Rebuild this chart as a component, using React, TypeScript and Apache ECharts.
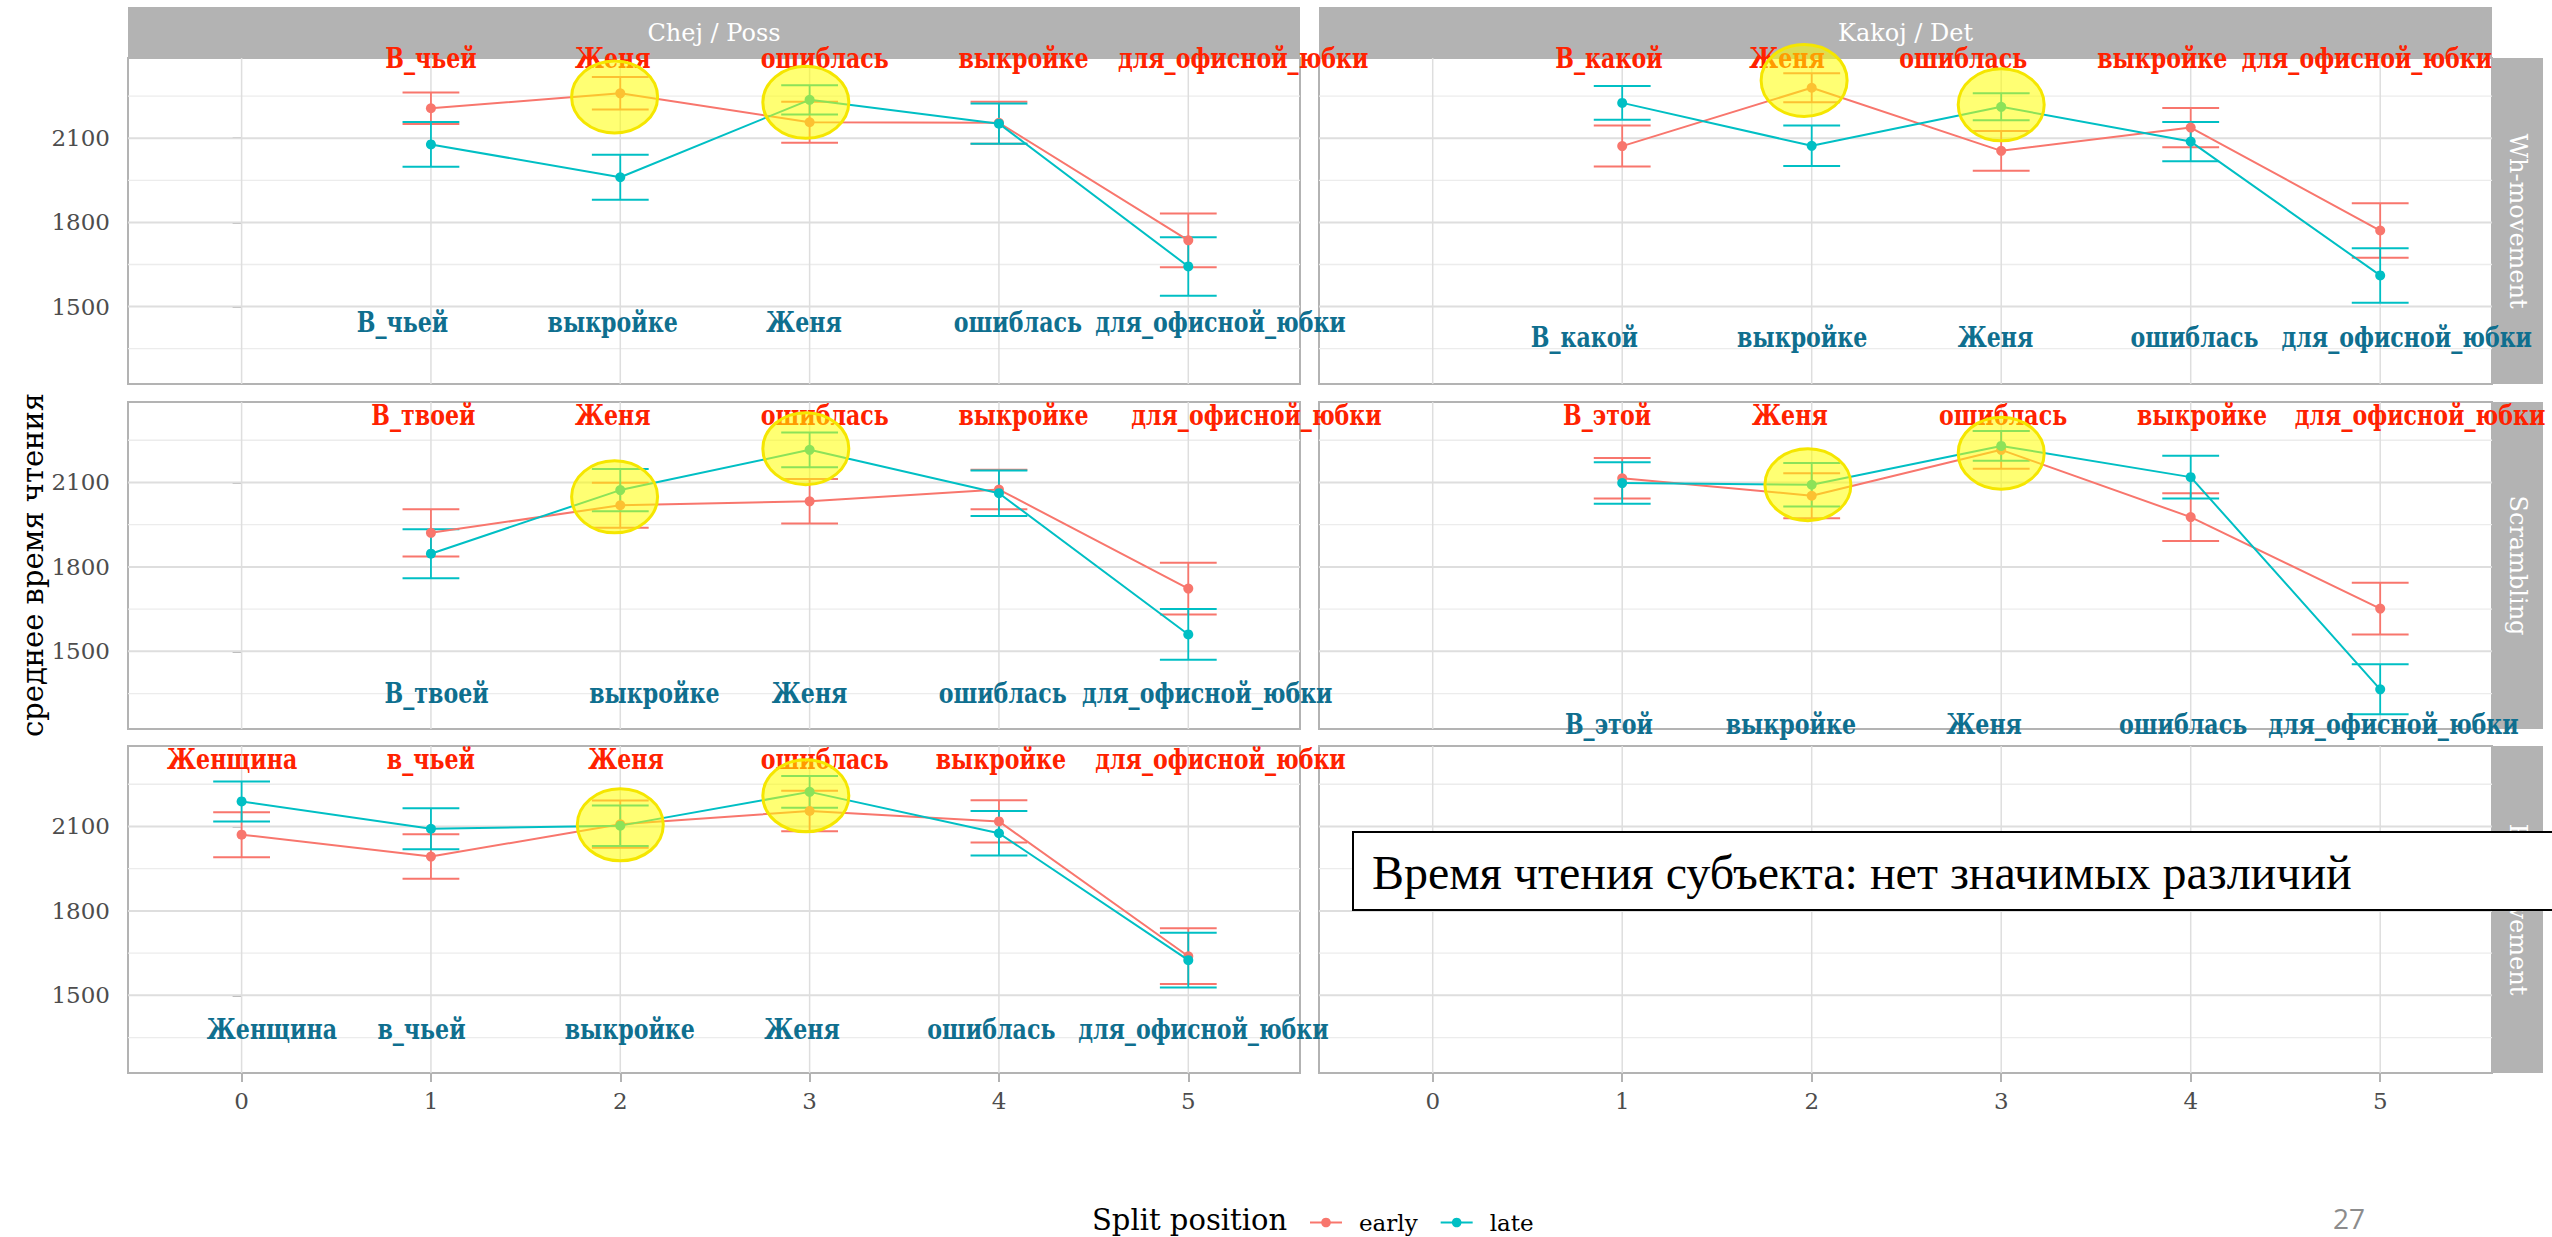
import React, { useEffect, useRef } from "react";
import * as echarts from "echarts";

// ---------------- data ----------------
const xTicks = [0, 1, 2, 3, 4, 5];
const yLabelTicks = [1500, 1800, 2100];
const yMinorTicks = [1350, 1650, 1950, 2250];
const xRange = [-0.6, 5.59];
const yRange = [1224, 2386];

const pos5 = [1, 2, 3, 4, 5];
const pos6 = [0, 1, 2, 3, 4, 5];

const groups = ["early", "late"];
const colTitles = ["Chej / Poss", "Kakoj / Det"];
const rowTitles = ["Wh-movement", "Scrambling", "RC-movement"];

// Chej / Poss — Wh-movement
const possWhEarlyMean = [2207, 2260, 2157, 2155, 1736];
const possWhEarlyCI = [56, 58, 73, 75, 96];
const possWhLateMean = [2078, 1961, 2237, 2152, 1643];
const possWhLateCI = [80, 80, 52, 72, 104];
const possWhTopWords = ["В_чьей", "Женя", "ошиблась", "выкройке", "для_офисной_юбки"];
const possWhTopX = [1.0, 1.96, 3.08, 4.13, 5.29];
const possWhBottomWords = ["В_чьей", "выкройке", "Женя", "ошиблась", "для_офисной_юбки"];
const possWhBottomX = [0.85, 1.96, 2.97, 4.1, 5.17];
const possWhLabelY = [2384, 1442];
const possWhHighlightX = [1.97, 2.98];
const possWhHighlightY = [2247, 2228];

// Kakoj / Det — Wh-movement
const detWhEarlyMean = [2072, 2280, 2055, 2138, 1771];
const detWhEarlyCI = [73, 52, 71, 70, 97];
const detWhLateMean = [2226, 2073, 2212, 2088, 1611];
const detWhLateCI = [60, 72, 48, 70, 97];
const detWhTopWords = ["В_какой", "Женя", "ошиблась", "выкройке", "для_офисной_юбки"];
const detWhTopX = [0.93, 1.87, 2.8, 3.85, 4.93];
const detWhBottomWords = ["В_какой", "выкройке", "Женя", "ошиблась", "для_офисной_юбки"];
const detWhBottomX = [0.8, 1.95, 2.97, 4.02, 5.14];
const detWhLabelY = [2384, 1389];
const detWhHighlightX = [1.96, 3.0];
const detWhHighlightY = [2306, 2219];

// Chej / Poss — Scrambling
const possScrEarlyMean = [1921, 2019, 2033, 2075, 1723];
const possScrEarlyCI = [84, 80, 79, 70, 92];
const possScrLateMean = [1847, 2073, 2216, 2062, 1560];
const possScrLateCI = [87, 75, 62, 81, 90];
const possScrTopWords = ["В_твоей", "Женя", "ошиблась", "выкройке", "для_офисной_юбки"];
const possScrTopX = [0.96, 1.96, 3.08, 4.13, 5.36];
const possScrBottomWords = ["В_твоей", "выкройке", "Женя", "ошиблась", "для_офисной_юбки"];
const possScrBottomX = [1.03, 2.18, 3.0, 4.02, 5.1];
const possScrLabelY = [2337, 1350];
const possScrHighlightX = [1.97, 2.98];
const possScrHighlightY = [2049, 2220];

// Kakoj / Det — Scrambling
const detScrEarlyMean = [2115, 2053, 2216, 1977, 1652];
const detScrEarlyCI = [72, 80, 67, 85, 92];
const detScrLateMean = [2098, 2092, 2230, 2119, 1365];
const detScrLateCI = [74, 77, 53, 76, 89];
const detScrTopWords = ["В_этой", "Женя", "ошиблась", "выкройке", "для_офисной_юбки"];
const detScrTopX = [0.92, 1.885, 3.01, 4.06, 5.21];
const detScrBottomWords = ["В_этой", "выкройке", "Женя", "ошиблась", "для_офисной_юбки"];
const detScrBottomX = [0.93, 1.89, 2.91, 3.96, 5.07];
const detScrLabelY = [2337, 1241];
const detScrHighlightX = [1.98, 3.0];
const detScrHighlightY = [2092, 2204];

// Chej / Poss — RC-movement
const possRcEarlyMean = [2071, 1993, 2108, 2155, 2118, 1639];
const possRcEarlyCI = [80, 79, 84, 72, 75, 99];
const possRcLateMean = [2189, 2092, 2103, 2223, 2076, 1625];
const possRcLateCI = [71, 73, 72, 56, 79, 97];
const possRcTopWords = ["Женщина", "в_чьей", "Женя", "ошиблась", "выкройке", "для_офисной_юбки"];
const possRcTopX = [-0.05, 1.0, 2.03, 3.08, 4.01, 5.17];
const possRcBottomWords = ["Женщина", "в_чьей", "выкройке", "Женя", "ошиблась", "для_офисной_юбки"];
const possRcBottomX = [0.16, 0.95, 2.05, 2.96, 3.96, 5.08];
const possRcLabelY = [2338, 1377];
const possRcHighlightX = [2.0, 2.98];
const possRcHighlightY = [2106, 2209];

const noteText = "Время чтения субъекта: нет значимых различий";
const pageNumber = "27";

// ---------------- layout / style ----------------
const W = 2552;
const H = 1237;
const colLeft = [128, 1319];
const colWidth = [1172, 1173];
const rowTop = [58, 402, 746];
const rowHeight = [326, 327, 327];
const stripTop = 7;
const stripSize = 51;
const colors = { early: "#F8766D", late: "#00BFC4" };
const topLabelColor = "#FF2200";
const bottomLabelColor = "#0F6F8F";
const SERIF = '"DejaVu Serif"';

type Panel = {
  row: number;
  col: number;
  pos: number[];
  means: number[][];
  cis: number[][];
  topWords: string[];
  topX: number[];
  bottomWords: string[];
  bottomX: number[];
  labelY: number[];
  hx: number[];
  hy: number[];
} | null;

const panels: Panel[] = [
  { row: 0, col: 0, pos: pos5, means: [possWhEarlyMean, possWhLateMean], cis: [possWhEarlyCI, possWhLateCI], topWords: possWhTopWords, topX: possWhTopX, bottomWords: possWhBottomWords, bottomX: possWhBottomX, labelY: possWhLabelY, hx: possWhHighlightX, hy: possWhHighlightY },
  { row: 0, col: 1, pos: pos5, means: [detWhEarlyMean, detWhLateMean], cis: [detWhEarlyCI, detWhLateCI], topWords: detWhTopWords, topX: detWhTopX, bottomWords: detWhBottomWords, bottomX: detWhBottomX, labelY: detWhLabelY, hx: detWhHighlightX, hy: detWhHighlightY },
  { row: 1, col: 0, pos: pos5, means: [possScrEarlyMean, possScrLateMean], cis: [possScrEarlyCI, possScrLateCI], topWords: possScrTopWords, topX: possScrTopX, bottomWords: possScrBottomWords, bottomX: possScrBottomX, labelY: possScrLabelY, hx: possScrHighlightX, hy: possScrHighlightY },
  { row: 1, col: 1, pos: pos5, means: [detScrEarlyMean, detScrLateMean], cis: [detScrEarlyCI, detScrLateCI], topWords: detScrTopWords, topX: detScrTopX, bottomWords: detScrBottomWords, bottomX: detScrBottomX, labelY: detScrLabelY, hx: detScrHighlightX, hy: detScrHighlightY },
  { row: 2, col: 0, pos: pos6, means: [possRcEarlyMean, possRcLateMean], cis: [possRcEarlyCI, possRcLateCI], topWords: possRcTopWords, topX: possRcTopX, bottomWords: possRcBottomWords, bottomX: possRcBottomX, labelY: possRcLabelY, hx: possRcHighlightX, hy: possRcHighlightY },
  null,
];

function buildOption() {
  const grid: any[] = [];
  const xAxis: any[] = [];
  const yAxis: any[] = [];
  const lineSeries: any[] = [];
  const otherSeries: any[] = [];
  const graphic: any[] = [];

  for (let i = 0; i < 6; i++) {
    const row = Math.floor(i / 2);
    const col = i % 2;
    grid.push({
      left: colLeft[col],
      top: rowTop[row],
      width: colWidth[col],
      height: rowHeight[row],
      show: true,
      backgroundColor: "#ffffff",
      borderColor: "#B3B3B3",
      borderWidth: 2,
    });
    const bottomRow = row === 2;
    xAxis.push({
      type: "value",
      gridIndex: i,
      min: xRange[0],
      max: xRange[1],
      axisLine: { show: false },
      splitLine: { show: false },
      axisTick: { show: bottomRow, length: 9, customValues: xTicks, lineStyle: { color: "#B3B3B3", width: 2 } },
      axisLabel: { show: bottomRow, customValues: xTicks, margin: 16, color: "#4D4D4D", fontSize: 23, fontFamily: SERIF, formatter: (v: number) => String(v) },
    });
    const leftCol = col === 0;
    yAxis.push({
      type: "value",
      gridIndex: i,
      min: yRange[0],
      max: yRange[1],
      axisLine: { show: false },
      splitLine: { show: false },
      axisTick: { show: leftCol, length: 9, customValues: yLabelTicks, lineStyle: { color: "#B3B3B3", width: 2 } },
      axisLabel: { show: leftCol, customValues: yLabelTicks, margin: 18, color: "#4D4D4D", fontSize: 23, fontFamily: SERIF, formatter: (v: number) => String(v) },
    });

    // grid lines
    const gridData = [
      ...yMinorTicks.map((v) => [0, v, 0]),
      ...yLabelTicks.map((v) => [0, v, 1]),
      ...xTicks.map((v) => [v, 1800, 2]),
    ];
    otherSeries.push({
      type: "custom",
      name: "grid-" + i,
      xAxisIndex: i,
      yAxisIndex: i,
      silent: true,
      z: 1,
      data: gridData,
      renderItem: (params: any, api: any) => {
        const cs = params.coordSys;
        const kind = api.value(2);
        if (kind === 2) {
          const x = api.coord([api.value(0), yRange[0]])[0];
          return { type: "line", shape: { x1: x, y1: cs.y, x2: x, y2: cs.y + cs.height }, style: { stroke: "#DEDEDE", lineWidth: 1.5 } };
        }
        const y = api.coord([xRange[0], api.value(1)])[1];
        return {
          type: "line",
          shape: { x1: cs.x, y1: y, x2: cs.x + cs.width, y2: y },
          style: { stroke: kind === 1 ? "#DEDEDE" : "#ECECEC", lineWidth: kind === 1 ? 2 : 1.3 },
        };
      },
    });

    const p = panels[i];
    if (!p) continue;

    groups.forEach((g, gi) => {
      const color = (colors as any)[g];
      const means = p.means[gi];
      const cis = p.cis[gi];
      // error bars
      otherSeries.push({
        type: "custom",
        name: g + "-err-" + i,
        xAxisIndex: i,
        yAxisIndex: i,
        silent: true,
        z: 3 + gi,
        data: p.pos.map((x, k) => [x, means[k] - cis[k], means[k] + cis[k]]),
        renderItem: (params: any, api: any) => {
          const x = api.value(0);
          const lo = api.coord([x, api.value(1)]);
          const hi = api.coord([x, api.value(2)]);
          const half = api.size([0.15, 0])[0];
          const st = { stroke: color, lineWidth: 2 };
          return {
            type: "group",
            children: [
              { type: "line", shape: { x1: lo[0], y1: lo[1], x2: hi[0], y2: hi[1] }, style: { stroke: color, lineWidth: 1.8 } },
              { type: "line", shape: { x1: lo[0] - half, y1: lo[1], x2: lo[0] + half, y2: lo[1] }, style: st },
              { type: "line", shape: { x1: hi[0] - half, y1: hi[1], x2: hi[0] + half, y2: hi[1] }, style: st },
            ],
          };
        },
      });
      lineSeries.push({
        type: "line",
        name: g,
        xAxisIndex: i,
        yAxisIndex: i,
        silent: true,
        z: 5 + gi,
        data: p.pos.map((x, k) => [x, means[k]]),
        symbol: "circle",
        symbolSize: 10,
        itemStyle: { color },
        lineStyle: { color, width: 2 },
      });
    });

    // word labels
    const labelSets = [
      { words: p.topWords, xs: p.topX, y: p.labelY[0], color: topLabelColor },
      { words: p.bottomWords, xs: p.bottomX, y: p.labelY[1], color: bottomLabelColor },
    ];
    labelSets.forEach((ls, li) => {
      otherSeries.push({
        type: "custom",
        name: "words-" + i + "-" + li,
        xAxisIndex: i,
        yAxisIndex: i,
        silent: true,
        z: 8,
        data: ls.xs.map((x) => [x, ls.y]),
        renderItem: (params: any, api: any) => {
          const pt = api.coord([api.value(0), api.value(1)]);
          return {
            type: "text",
            x: pt[0],
            y: pt[1],
            scaleX: 0.82,
            style: {
              text: ls.words[params.dataIndex],
              fill: ls.color,
              font: `bold 27px ${SERIF}`,
              align: "center",
              verticalAlign: "middle",
            },
          };
        },
      });
    });

    // yellow highlight ellipses
    otherSeries.push({
      type: "custom",
      name: "highlight-" + i,
      xAxisIndex: i,
      yAxisIndex: i,
      silent: true,
      z: 10,
      data: p.hx.map((x, k) => [x, p.hy[k]]),
      renderItem: (params: any, api: any) => {
        const pt = api.coord([api.value(0), api.value(1)]);
        return {
          type: "ellipse",
          shape: { cx: pt[0], cy: pt[1], rx: 43, ry: 36 },
          style: { fill: "rgba(255,255,0,0.55)", stroke: "#F5E600", lineWidth: 3 },
        };
      },
    });
  }

  // strips
  for (let c = 0; c < 2; c++) {
    graphic.push({
      type: "rect",
      z: 0,
      shape: { x: colLeft[c], y: stripTop, width: colWidth[c], height: stripSize },
      style: { fill: "#B3B3B3" },
    });
    graphic.push({
      type: "text",
      z: 1,
      x: colLeft[c] + colWidth[c] / 2,
      y: stripTop + stripSize / 2,
      style: { text: colTitles[c], fill: "#ffffff", font: `24px ${SERIF}`, align: "center", verticalAlign: "middle" },
    });
  }
  const stripLeft = colLeft[1] + colWidth[1];
  for (let r = 0; r < 3; r++) {
    graphic.push({
      type: "rect",
      z: 0,
      shape: { x: stripLeft, y: rowTop[r], width: stripSize, height: rowHeight[r] },
      style: { fill: "#B3B3B3" },
    });
    graphic.push({
      type: "text",
      z: 1,
      x: stripLeft + stripSize / 2,
      y: rowTop[r] + rowHeight[r] / 2,
      rotation: -Math.PI / 2,
      style: { text: rowTitles[r], fill: "#ffffff", font: `24px ${SERIF}`, align: "center", verticalAlign: "middle" },
    });
  }
  // y axis title
  graphic.push({
    type: "text",
    x: 33,
    y: 565,
    rotation: Math.PI / 2,
    style: { text: "среднее время чтения", fill: "#000000", font: `29px ${SERIF}`, align: "center", verticalAlign: "middle" },
  });
  // legend title
  graphic.push({
    type: "text",
    x: 1092,
    y: 1220,
    style: { text: "Split position", fill: "#000000", font: `29px ${SERIF}`, align: "left", verticalAlign: "middle" },
  });
  // page number
  graphic.push({
    type: "text",
    x: 2349,
    y: 1218,
    style: { text: pageNumber, fill: "#8C8C8C", font: `28px "Open Sans"`, align: "center", verticalAlign: "middle" },
  });
  // annotation box
  graphic.push({
    type: "rect",
    z: 100,
    shape: { x: 1353, y: 832, width: 1240, height: 78 },
    style: { fill: "#ffffff", stroke: "#000000", lineWidth: 2 },
  });
  graphic.push({
    type: "text",
    z: 101,
    x: 1372,
    y: 872,
    style: { text: noteText, fill: "#000000", font: `48px "Liberation Serif"`, align: "left", verticalAlign: "middle" },
  });

  return {
    animation: false,
    backgroundColor: "#ffffff",
    textStyle: { fontFamily: SERIF },
    grid,
    xAxis,
    yAxis,
    legend: {
      data: groups,
      left: 1304,
      top: 1206,
      itemWidth: 32,
      itemHeight: 12,
      itemGap: 22,
      selectedMode: false,
      textStyle: { fontFamily: SERIF, fontSize: 23, color: "#000000", padding: [0, 0, 0, 12] },
    },
    graphic,
    series: [...lineSeries, ...otherSeries],
  };
}

export default function App() {
  const ref = useRef<HTMLDivElement>(null);
  useEffect(() => {
    document.body.style.margin = "0";
    document.body.style.overflow = "hidden";
    const chart = echarts.init(ref.current!, null, { renderer: "svg", width: W, height: H });
    chart.setOption(buildOption() as any);
    return () => chart.dispose();
  }, []);
  return <div ref={ref} style={{ width: W, height: H }} />;
}
